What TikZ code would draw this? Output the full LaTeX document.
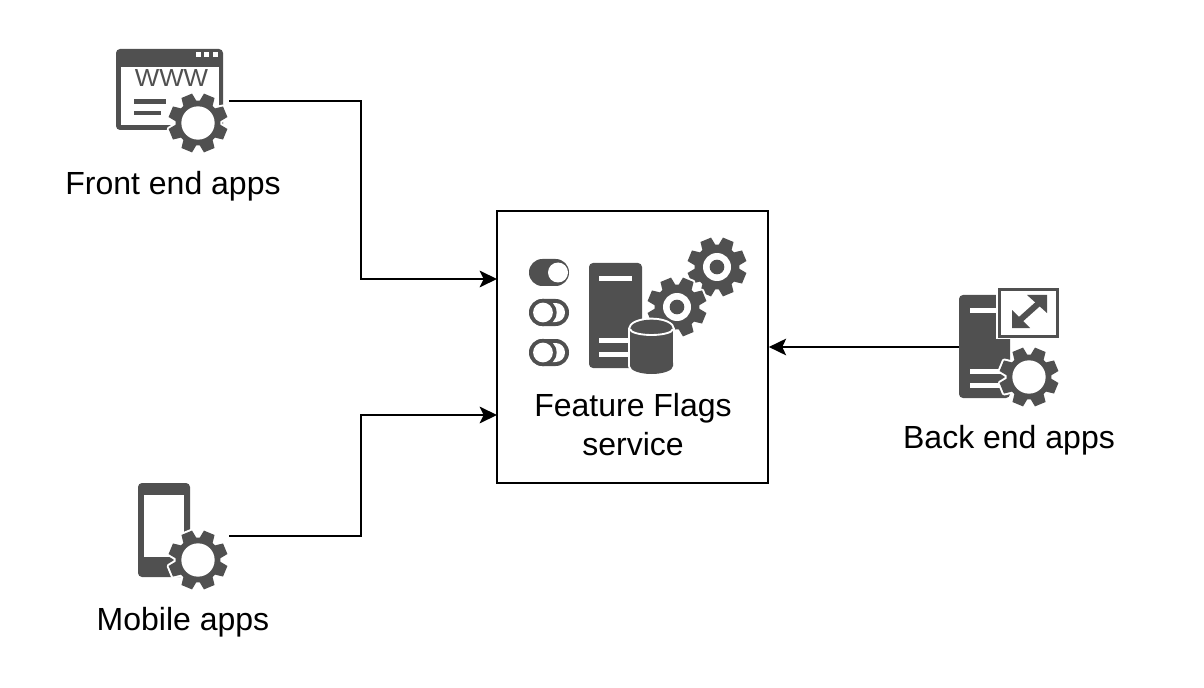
\documentclass[tikz,border=0pt]{standalone}
\usepackage{fontspec}
\setmainfont{Liberation Sans}
\usetikzlibrary{arrows.meta,calc}
\definecolor{icon}{HTML}{505050}
\newcommand{\gearpath}[4]{ \foreach \k [evaluate=\k as \a using \k*45+#4] in {0,...,7} {
   -- ($(#1)+({\a-18}:#3)$) -- ($(#1)+({\a-11}:#2)$) -- ($(#1)+({\a+11}:#2)$) -- ($(#1)+({\a+18}:#3)$) } -- cycle }
\newcommand{\gearshape}[5]{%
  \draw[white,fill=white,line width=#5*0.75pt,line join=round] ($(#1)+({#4-18}:#3)$) \gearpath{#1}{#2}{#3}{#4};
  \fill[icon] ($(#1)+({#4-18}:#3)$) \gearpath{#1}{#2}{#3}{#4};
}
\tikzset{
  x=0.75pt,y=-0.75pt,
  label text/.style={font=\fontsize{24pt}{29pt}\selectfont,align=center,text=black,inner sep=0pt},
  wire/.style={draw=black,line width=1.5pt},
  arrow wire/.style={wire,-{Stealth[length=13pt,width=12.5pt,inset=3pt]}},
  service box/.style={draw=black,line width=1.5pt,fill=white,minimum width=203pt,minimum height=204pt,inner sep=0pt},
}
\begin{document}
\begin{tikzpicture}
\useasboundingbox (0,0) rectangle (1204,688);
\fill[white] (0,0) rectangle (1204,688);

% ---------- service box
\node[service box] (service) at (632.5,347) {};

% ---------- front end icon
\fill[icon,rounded corners=3pt] (116,49) rectangle (223,130);
\fill[white] (120.5,67) rectangle (219,125.5);
\foreach \dx in {198,206.5,215} \fill[white] (\dx-2.5,52.5) rectangle (\dx+2.5,57.5);
\node[anchor=center,inner sep=0pt,text=icon,xscale=1.05,font=\fontsize{18.5pt}{19pt}\selectfont] (www) at (171.5,78.5) {WWW};
\fill[icon] (134,99.5) rectangle (166,104);
\fill[icon] (134,111) rectangle (161,115.5);
\coordinate (fg) at (198,123);
\gearshape{fg}{30}{22.5}{22.5}{4}
\fill[white] (fg) circle[radius=12.5pt];

% ---------- mobile icon
\fill[icon,rounded corners=3pt] (138,483) rectangle (190,577);
\fill[white] (144,495) rectangle (184,557);
\coordinate (mg) at (198,560);
\gearshape{mg}{30}{22.5}{22.5}{4}
\fill[white] (mg) circle[radius=12.5pt];

% ---------- back end icon
\fill[icon,rounded corners=3pt] (959,398) -- (959,295) -- (1010,295) -- (1010,398) -- cycle;
\fill[white] (970,308) rectangle (1000,313);
\fill[white] (970,369) rectangle (1005,374);
\fill[white] (970,383) rectangle (1005,388);
\draw[white,line width=3pt] (998,288) rectangle (1058,337);
\draw[icon,line width=2.4pt,fill=white] (999.5,289.5) rectangle (1057.5,336.5);
\draw[icon,line width=4.5pt] (1020,320) -- (1039,303);
\fill[icon] (1012,310) -- (1012,328) -- (1030,328) -- cycle;
\fill[icon] (1047,295) -- (1047,313) -- (1027,295) -- cycle;
\coordinate (bg) at (1029,377);
\gearshape{bg}{30}{22.5}{22.5}{4}
\fill[white] (bg) circle[radius=12.5pt];

% ---------- service icon: toggles
\fill[icon,rounded corners=10pt] (529,259) rectangle (569,286);
\fill[white] (558,272.5) circle[radius=7.5pt];
\foreach \yy in {312.5,352.5} {
  \fill[icon,rounded corners=10pt] (529,\yy-13.5) rectangle (569,\yy+13.5);
  \fill[white,rounded corners=7pt] (533,\yy-9.5) rectangle (565,\yy+9.5);
  \fill[icon] (543,\yy) circle[radius=10.2pt];
  \fill[white] (543,\yy) circle[radius=7.4pt];
}
% server
\fill[icon,rounded corners=3pt] (589,368) -- (589,263) -- (642,263) -- (642,368) -- cycle;
\fill[white] (599,276) rectangle (632,281);
\fill[white] (599,338) rectangle (630,343);
\fill[white] (599,352) rectangle (630,357);
% gears
\coordinate (sg1) at (717,267);
\gearshape{sg1}{30}{22.5}{22.5}{0}
\fill[white] (sg1) circle[radius=10.5pt];
\fill[icon] (sg1) circle[radius=5.5pt];
\coordinate (sg2) at (677,307);
\gearshape{sg2}{30}{22.5}{22.5}{4}
\fill[white] (sg2) circle[radius=10.5pt];
\fill[icon] (sg2) circle[radius=5.5pt];
% cylinder
\draw[white,line width=3pt,fill=white,line join=round] (630,329) arc[start angle=180,end angle=0,x radius=16.1pt,y radius=7pt] -- (673,366) arc[start angle=0,end angle=-180,x radius=16.1pt,y radius=6pt] -- cycle;
\fill[icon] (630,329) arc[start angle=180,end angle=0,x radius=16.1pt,y radius=7pt] -- (673,366) arc[start angle=0,end angle=-180,x radius=16.1pt,y radius=6pt] -- cycle;
\draw[white,line width=1.4pt] (630,329) arc[start angle=180,end angle=360,x radius=16.1pt,y radius=4.5pt];

% ---------- labels
\node[label text] (frontlabel) at (173,186) {Front end apps};
\node[label text] (mobilelabel) at (183,622) {Mobile apps};
\node[label text] (backlabel) at (1009,440) {Back end apps};
\node[label text] (servicelabel) at (633,424.5) {Feature Flags\\service};

% ---------- connector ends
\coordinate (frontout) at (229,101);
\coordinate (mobileout) at (229,536);
\coordinate (backout) at (959,347);
\coordinate (bendA) at (361,190);
\coordinate (bendB) at (361,475);
\coordinate (serviceA) at (497,279);
\coordinate (serviceB) at (497,415);

\draw[arrow wire] (frontout) -| (bendA) |- (serviceA);
\draw[arrow wire] (mobileout) -| (bendB) |- (serviceB);
\draw[arrow wire] (backout) -- (service.east);
\end{tikzpicture}
\end{document}
